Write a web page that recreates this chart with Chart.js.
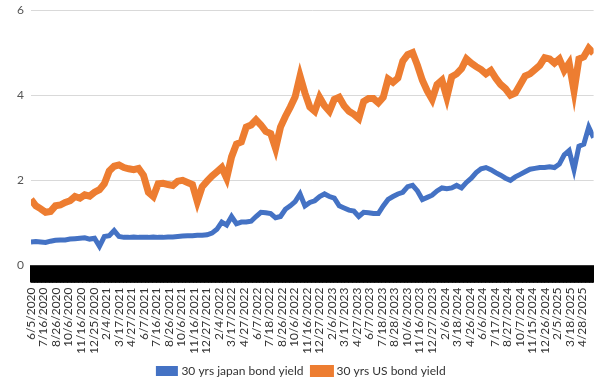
<!DOCTYPE html>
<html>
<head>
<meta charset="utf-8">
<script src="https://cdn.jsdelivr.net/npm/chart.js@4/dist/chart.umd.min.js"></script>
<style>
  html, body { margin: 0; padding: 0; background: #fff; }
  #wrap { width: 613px; height: 382px; }
</style>
</head>
<body>
<div id="wrap"><canvas id="c" width="613" height="382"></canvas></div>
<script>
// Date labels shown under the axis (one every 41 daily entries)
const tickLabels = [
  '6/5/2020','7/16/2020','8/26/2020','10/6/2020','11/16/2020','12/25/2020',
  '2/4/2021','3/17/2021','4/27/2021','6/7/2021','7/16/2021','8/26/2021','10/6/2021','11/16/2021','12/27/2021',
  '2/4/2022','3/17/2022','4/27/2022','6/7/2022','7/18/2022','8/26/2022','10/6/2022','11/16/2022','12/27/2022',
  '2/6/2023','3/17/2023','4/27/2023','6/7/2023','7/18/2023','8/28/2023','10/6/2023','11/16/2023','12/27/2023',
  '2/6/2024','3/18/2024','4/26/2024','6/6/2024','7/17/2024','8/27/2024','10/7/2024','11/15/2024','12/26/2024',
  '2/5/2025','3/18/2025','4/28/2025'
];
const labelEvery = 41;      // entries between labelled dates
const totalEntries = 1840;  // daily entries on the axis
const sampleStep = 16;      // entries between the sampled readings below

const seriesNames = ['30 yrs japan bond yield', '30 yrs US bond yield'];

const japanYield = [
  0.55,0.56,0.55,0.54,0.57,0.59,0.60,0.60,0.62,0.63,
  0.64,0.65,0.62,0.64,0.45,0.68,0.70,0.82,0.68,0.66,
  0.66,0.67,0.66,0.66,0.66,0.67,0.66,0.66,0.67,0.67,
  0.68,0.69,0.70,0.70,0.71,0.71,0.72,0.76,0.85,1.02,
  0.95,1.15,0.98,1.02,1.02,1.04,1.15,1.25,1.24,1.22,
  1.12,1.15,1.32,1.40,1.50,1.68,1.40,1.48,1.52,1.62,
  1.68,1.62,1.58,1.40,1.35,1.30,1.28,1.15,1.25,1.24,
  1.22,1.22,1.40,1.55,1.62,1.68,1.72,1.85,1.88,1.75,
  1.55,1.60,1.65,1.75,1.82,1.80,1.82,1.88,1.82,1.95,
  2.05,2.18,2.27,2.30,2.25,2.18,2.12,2.05,2.00,2.08,
  2.14,2.20,2.26,2.28,2.30,2.30,2.32,2.30,2.38,2.60,
  2.70,2.25,2.80,2.85,3.25,3.00
];

const usYield = [
  1.55,1.40,1.33,1.25,1.27,1.40,1.42,1.48,1.52,1.62,
  1.58,1.66,1.63,1.72,1.78,1.92,2.22,2.33,2.36,2.30,
  2.27,2.25,2.28,2.12,1.72,1.62,1.92,1.93,1.90,1.88,
  1.98,2.00,1.95,1.90,1.50,1.85,1.98,2.10,2.20,2.30,
  2.05,2.55,2.85,2.90,3.25,3.30,3.42,3.30,3.15,3.10,
  2.75,3.25,3.50,3.72,3.96,4.45,4.05,3.72,3.62,3.95,
  3.75,3.62,3.90,3.95,3.75,3.62,3.55,3.45,3.85,3.92,
  3.92,3.82,3.95,4.38,4.30,4.40,4.80,4.95,5.00,4.70,
  4.35,4.10,3.90,4.25,4.35,3.95,4.43,4.50,4.62,4.85,
  4.75,4.67,4.60,4.50,4.58,4.40,4.25,4.15,4.00,4.05,
  4.25,4.45,4.50,4.60,4.70,4.88,4.85,4.75,4.85,4.58,
  4.75,4.10,4.85,4.90,5.10,4.98
];

const yTicks = [0, 2, 4, 6];

const toPoints = arr => arr.map((v, i) => ({ x: i * sampleStep, y: v }));
const FONT = 'Lato, "Open Sans", sans-serif';

new Chart(document.getElementById('c'), {
  type: 'line',
  data: {
    datasets: [
      {
        label: seriesNames[0],
        data: toPoints(japanYield),
        borderColor: '#4472C4',
        backgroundColor: '#4472C4',
        borderWidth: 5,
        pointRadius: 0,
        tension: 0
      },
      {
        label: seriesNames[1],
        data: toPoints(usYield),
        borderColor: '#ED7D31',
        backgroundColor: '#ED7D31',
        borderWidth: 7,
        pointRadius: 0,
        tension: 0
      }
    ]
  },
  options: {
    responsive: false,
    animation: false,
    events: [],
    layout: { padding: { left: 10, right: 19, top: 10, bottom: -5 } },
    plugins: {
      tooltip: { enabled: false },
      legend: {
        position: 'bottom',
        labels: {
          boxWidth: 17,
          boxHeight: 5,
          padding: 10,
          color: '#333',
          font: { family: FONT, size: 12 }
        }
      }
    },
    scales: {
      x: {
        type: 'linear',
        min: 0,
        max: totalEntries,
        afterBuildTicks: (scale) => {
          const t = [];
          for (let i = 0; i <= totalEntries; i++) t.push({ value: i });
          scale.ticks = t;
        },
        afterFit: (scale) => { scale.height -= 4; },
        ticks: {
          autoSkip: false,
          minRotation: 90,
          maxRotation: 90,
          padding: 5,
          color: '#333',
          font: { family: FONT, size: 12 },
          callback: (value) => (value % labelEvery === 0 && tickLabels[value / labelEvery] !== undefined) ? tickLabels[value / labelEvery] : ''
        },
        grid: {
          drawOnChartArea: false,
          drawTicks: true,
          tickLength: 17,
          tickColor: '#000',
          tickWidth: 1
        },
        border: { display: true, color: '#333', width: 1 }
      },
      y: {
        min: 0,
        max: 6,
        afterBuildTicks: (scale) => { scale.ticks = yTicks.map(v => ({ value: v })); },
        afterFit: (scale) => { scale.paddingTop = 0; },
        ticks: {
          padding: 7,
          color: '#555',
          font: { family: FONT, size: 12 }
        },
        grid: { color: '#d9d9d9', lineWidth: 1, drawTicks: false },
        border: { display: false }
      }
    }
  }
});
</script>
</body>
</html>
